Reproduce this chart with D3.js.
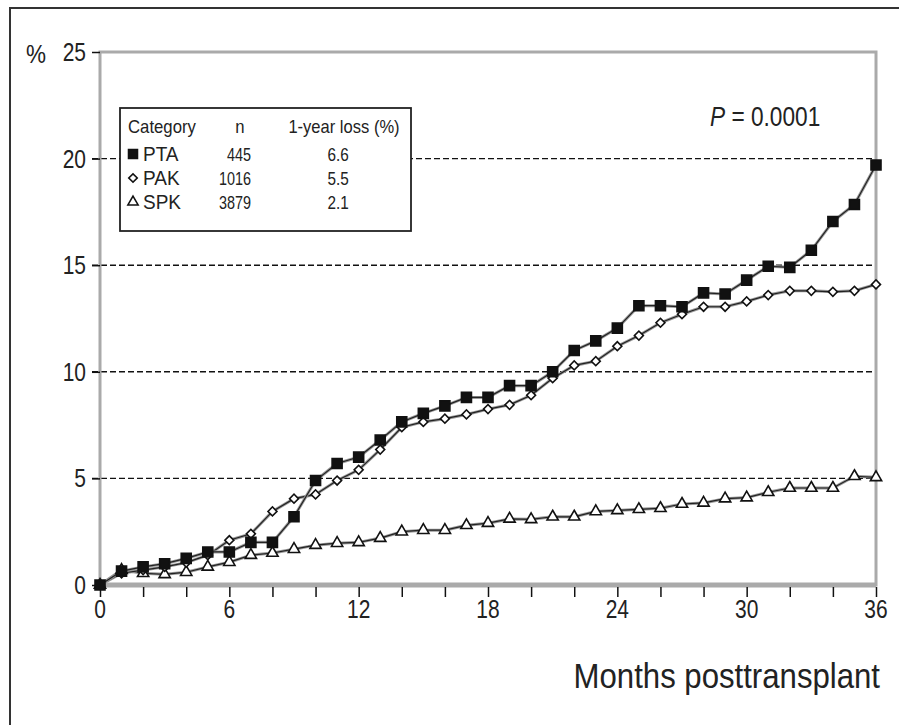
<!DOCTYPE html>
<html>
<head>
<meta charset="utf-8">
<script src="https://cdn.jsdelivr.net/npm/d3@7"></script>
<style>
  body { margin: 0; background: #fff; }
  svg { display: block; }
  text { font-family: "Liberation Sans", Arial, sans-serif; fill: #222; }
</style>
</head>
<body>
<svg width="899" height="725"></svg>
<script>
const months = [0,1,2,3,4,5,6,7,8,9,10,11,12,13,14,15,16,17,18,19,20,21,22,23,24,25,26,27,28,29,30,31,32,33,34,35,36];
const pta = [0,0.65,0.85,1.0,1.25,1.55,1.55,2.0,2.0,3.2,4.9,5.7,6.0,6.8,7.65,8.05,8.4,8.8,8.8,9.35,9.35,10.0,11.0,11.45,12.05,13.1,13.1,13.05,13.7,13.65,14.3,14.95,14.9,15.7,17.05,17.85,19.7];
const pak = [0,0.55,0.7,0.85,1.05,1.4,2.1,2.4,3.45,4.05,4.25,4.9,5.4,6.35,7.4,7.65,7.8,8.0,8.25,8.45,8.9,9.7,10.3,10.5,11.2,11.7,12.3,12.7,13.05,13.05,13.3,13.6,13.8,13.8,13.75,13.8,14.1];
const spk = [0,0.7,0.55,0.5,0.6,0.85,1.07,1.4,1.5,1.68,1.87,1.96,2.0,2.2,2.5,2.57,2.57,2.8,2.9,3.1,3.08,3.2,3.2,3.45,3.5,3.55,3.6,3.8,3.85,4.05,4.1,4.35,4.55,4.55,4.55,5.1,5.05];

const categories = ["PTA", "PAK", "SPK"];
const counts = ["445", "1016", "3879"];
const oneYearLoss = ["6.6", "5.5", "2.1"];
const xTickLabels = [0, 6, 12, 18, 24, 30, 36];
const yTickLabels = [0, 5, 10, 15, 20, 25];
const gridValues = [5, 10, 15, 20];

const svg = d3.select("svg");
const x = d3.scaleLinear().domain([0, 36]).range([100, 876]);
const y = d3.scaleLinear().domain([0, 25]).range([585, 52]);

// the original type is a condensed grotesque, so squeeze Liberation Sans horizontally
function label(parent, px, py, txt, size, anchor, sx) {
  return parent.append("text")
    .attr("transform", `translate(${px},${py}) scale(${sx},1)`)
    .attr("font-size", size)
    .attr("text-anchor", anchor || "start")
    .text(txt);
}

// outer frame (top and left edges only visible)
svg.append("line").attr("x1", 9).attr("x2", 899).attr("y1", 8).attr("y2", 8)
  .attr("stroke", "#333").attr("stroke-width", 2);
svg.append("line").attr("x1", 10).attr("x2", 10).attr("y1", 8).attr("y2", 725)
  .attr("stroke", "#333").attr("stroke-width", 2);

// dashed grid
svg.append("g").selectAll("line").data(gridValues).enter().append("line")
  .attr("x1", x(0) - 8).attr("x2", x(36))
  .attr("y1", d => y(d)).attr("y2", d => y(d))
  .attr("stroke", "#111").attr("stroke-width", 1.4)
  .attr("stroke-dasharray", "6,3");

// gray plot box
svg.append("rect").attr("x", x(0)).attr("y", y(25))
  .attr("width", x(36) - x(0)).attr("height", y(0) - y(25))
  .attr("fill", "none").attr("stroke", "#aaa").attr("stroke-width", 3);
svg.append("line").attr("x1", x(0)).attr("x2", x(36)).attr("y1", y(0)).attr("y2", y(0))
  .attr("stroke", "#aaa").attr("stroke-width", 5);

// x axis ticks every 2 months
const xAxis = d3.axisBottom(x).tickValues(d3.range(0, 37, 2)).tickSize(10).tickFormat("");
const gx = svg.append("g").attr("transform", `translate(0,${y(0) + 2})`).call(xAxis);
gx.select(".domain").remove();
gx.selectAll("line").attr("stroke", "#111").attr("stroke-width", 1.5);
const gxl = svg.append("g");
xTickLabels.forEach(d => label(gxl, x(d), 618, d, 25, "middle", 0.84));

// y axis ticks
const yAxis = d3.axisLeft(y).tickValues(yTickLabels).tickSize(8).tickFormat("");
const gy = svg.append("g").attr("transform", `translate(${x(0)},0)`).call(yAxis);
gy.select(".domain").remove();
gy.selectAll("line").attr("stroke", "#111").attr("stroke-width", 1.5);
const gyl = svg.append("g");
yTickLabels.forEach(d => label(gyl, 86, y(d) + 9, d, 25, "end", 0.84));
label(svg, 26, y(25) + 11, "%", 25, "start", 0.9);

// axis title and p-value
label(svg, 880, 688, "Months posttransplant", 35, "end", 0.89);
const pText = label(svg, 710, 126, "", 27, "start", 0.84);
pText.append("tspan").attr("font-style", "italic").text("P");
pText.append("tspan").text(" = 0.0001");

// series; the diamond is a square turned 45 degrees
const series = [
  { name: "SPK", values: spk, shape: d3.symbolTriangle, size: 55, fill: "#fff", rot: 0 },
  { name: "PAK", values: pak, shape: d3.symbolSquare, size: 40, fill: "#fff", rot: 45 },
  { name: "PTA", values: pta, shape: d3.symbolSquare, size: 100, fill: "#111", rot: 0 }
];
const line = d3.line().x((d, i) => x(months[i])).y(d => y(d));

series.forEach(s => {
  svg.append("path").datum(s.values)
    .attr("d", line)
    .attr("fill", "none").attr("stroke", "#999").attr("stroke-width", 3);
  svg.append("path").datum(s.values)
    .attr("d", line)
    .attr("fill", "none").attr("stroke", "#222").attr("stroke-width", 1.2);
});
series.forEach(s => {
  svg.append("g").selectAll("path").data(s.values).enter().append("path")
    .attr("transform", (d, i) => `translate(${x(months[i])},${y(d)}) rotate(${s.rot})`)
    .attr("d", d3.symbol().type(s.shape).size(s.size))
    .attr("fill", s.fill).attr("stroke", "#111").attr("stroke-width", 1.6);
});

// legend table
const lg = svg.append("g");
lg.append("rect").attr("x", 120).attr("y", 108).attr("width", 291).attr("height", 123)
  .attr("fill", "#fff").attr("stroke", "#222").attr("stroke-width", 1.8);
label(lg, 128, 133, "Category", 18, "start", 0.93);
label(lg, 240, 133, "n", 18, "middle", 0.93);
label(lg, 344, 133, "1-year loss (%)", 18, "middle", 0.92);
const legendShapes = [
  { shape: d3.symbolSquare, size: 80, fill: "#111", rot: 0 },
  { shape: d3.symbolSquare, size: 36, fill: "#fff", rot: 45 },
  { shape: d3.symbolTriangle, size: 45, fill: "#fff", rot: 0 }
];
categories.forEach((c, i) => {
  const by = 161 + i * 24;
  lg.append("path")
    .attr("transform", `translate(133,${by - 7}) rotate(${legendShapes[i].rot})`)
    .attr("d", d3.symbol().type(legendShapes[i].shape).size(legendShapes[i].size))
    .attr("fill", legendShapes[i].fill).attr("stroke", "#111").attr("stroke-width", 1.6);
  label(lg, 143, by, c, 20, "start", 0.95);
  label(lg, 251, by, counts[i], 18, "end", 0.8);
  label(lg, 338, by, oneYearLoss[i], 18, "middle", 0.85);
});
</script>
</body>
</html>
